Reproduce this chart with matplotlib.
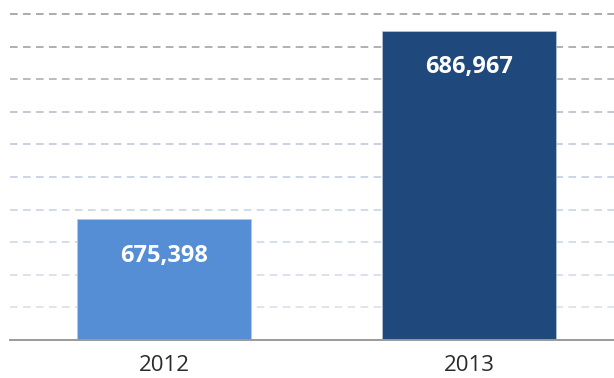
import matplotlib
matplotlib.use("Agg")
import matplotlib.pyplot as plt

# ----- data -----
years = ["2012", "2013"]
values = [675398, 686967]
bar_colors = ["#558ed5", "#1f497d"]

y_min, y_max, y_step = 668000, 688000, 2000

# gridline colours, bottom -> top (grey at the top fading into pale blue)
grid_colors = ["#d6dcea", "#d3d9e9", "#ccd4e6", "#c6cfe3", "#c0c9df",
               "#bac3da", "#b2b8c8", "#a6a9b2", "#9b9b9e", "#959595"]

plt.rcParams["font.family"] = ["Open Sans", "DejaVu Sans"]

fig = plt.figure(figsize=(6.14, 3.78), dpi=100)
ax = fig.add_axes([10 / 614, 38 / 378, 604 / 614, 326 / 378])

x = [0, 1]
bars = ax.bar(x, values, width=0.57, color=bar_colors,
              edgecolor="#b8c8dc", linewidth=0.5, zorder=3)

ax.set_ylim(y_min, y_max)
ax.set_xlim(-0.505, 1.475)

# dashed horizontal gridlines
ticks = list(range(y_min + y_step, y_max + 1, y_step))
for t, c in zip(ticks, grid_colors):
    ax.axhline(t, color=c, linewidth=1.1, linestyle=(0, (5, 3.5)),
               zorder=1, clip_on=False)

# value labels inside the bars
for b, v in zip(bars, values):
    ax.annotate(f"{v:,}", xy=(b.get_x() + b.get_width() / 2, v),
                xytext=(0, -26), textcoords="offset points",
                ha="center", va="center", color="white",
                fontsize=17, fontweight="bold", zorder=4)

ax.set_xticks(x)
ax.set_xticklabels(years, fontsize=16, color="#2b2b2b")
ax.tick_params(axis="x", length=0, pad=11)
ax.set_yticks([])

for side in ["left", "right", "top"]:
    ax.spines[side].set_visible(False)
ax.spines["bottom"].set_color("#9a9a9a")
ax.spines["bottom"].set_linewidth(1.4)
ax.spines["bottom"].set_zorder(5)

fig.savefig("out.png", dpi=100)
